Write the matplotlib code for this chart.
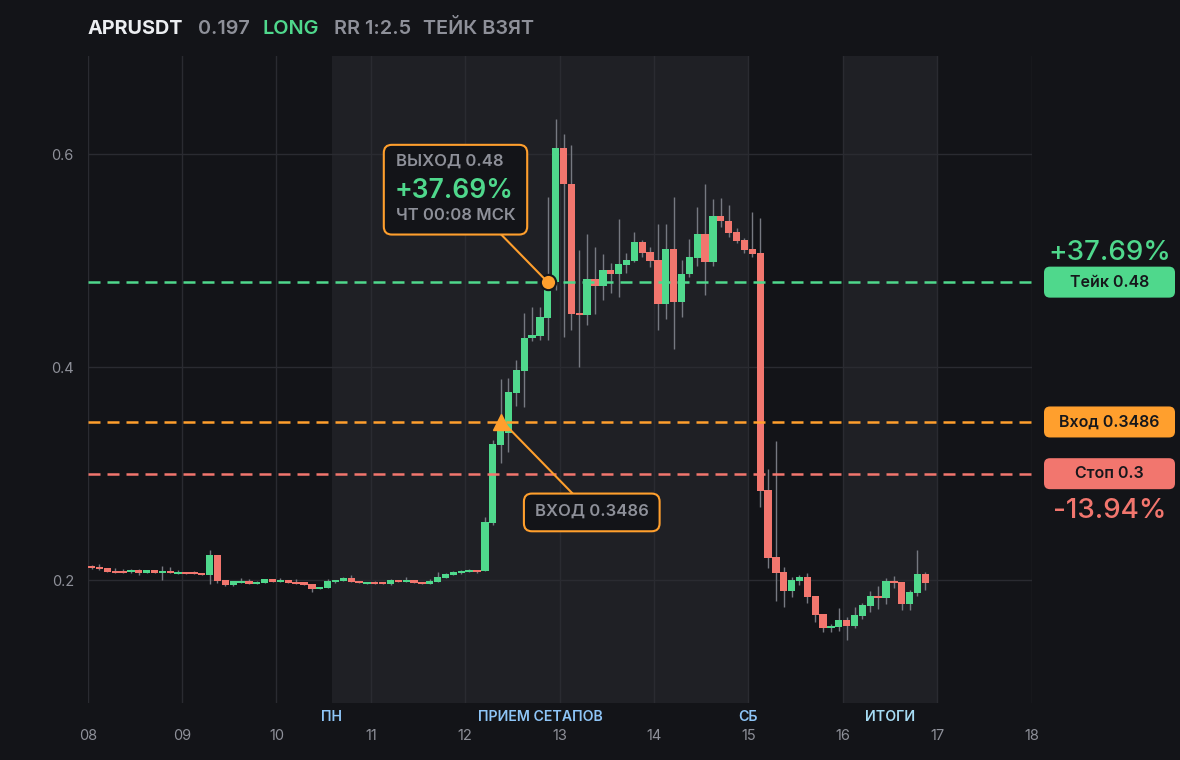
import numpy as np
import matplotlib
matplotlib.use("Agg")
import matplotlib.pyplot as plt
from matplotlib.patches import FancyBboxPatch
from matplotlib.lines import Line2D
from matplotlib.transforms import IdentityTransform

plt.rcParams['font.family'] = ['Inter', 'DejaVu Sans']

# --- data (2h candles starting on the 8th) ---
opens = [0.2131, 0.2122, 0.2113, 0.2085, 0.2085, 0.2075, 0.2094, 0.2066, 0.2094, 0.2066,
         0.2085, 0.2056, 0.2075, 0.2075, 0.2066, 0.2047, 0.2235, 0.2000, 0.1953, 0.1972,
         0.1991, 0.1962, 0.1972, 0.2009, 0.1981, 0.2000, 0.1981, 0.1981, 0.1962, 0.1915,
         0.1925, 0.1981, 0.1991, 0.2019, 0.1991, 0.1962, 0.1981, 0.1981, 0.1962, 0.2000,
         0.1981, 0.2000, 0.1981, 0.1962, 0.1981, 0.2019, 0.2047, 0.2066, 0.2075, 0.2094,
         0.2087, 0.2538, 0.3268, 0.3387, 0.3759, 0.3965, 0.4279, 0.4294, 0.4463, 0.4801,
         0.6063, 0.5725, 0.4510, 0.4491, 0.4833, 0.4763, 0.4911, 0.4873, 0.4961, 0.4998,
         0.5174, 0.5080, 0.5005, 0.4598, 0.5108, 0.4613, 0.4873, 0.5023, 0.5249, 0.4986,
         0.5418, 0.5374, 0.5268, 0.5192, 0.5108, 0.5070, 0.2845, 0.2216, 0.2075, 0.1900,
         0.1993, 0.2028, 0.1850, 0.1681, 0.1552, 0.1561, 0.1627, 0.1571, 0.1665, 0.1759,
         0.1853, 0.1834, 0.1993, 0.1984, 0.1777, 0.1881, 0.2056]
highs = [0.2144, 0.2150, 0.2115, 0.2113, 0.2103, 0.2103, 0.2103, 0.2094, 0.2094, 0.2131,
         0.2122, 0.2094, 0.2075, 0.2085, 0.2066, 0.2282, 0.2235, 0.2000, 0.1991, 0.2019,
         0.2009, 0.1991, 0.2009, 0.2009, 0.2019, 0.2000, 0.2009, 0.1981, 0.1962, 0.1934,
         0.2009, 0.2000, 0.2028, 0.2047, 0.1991, 0.1981, 0.1991, 0.1981, 0.2009, 0.2000,
         0.2028, 0.2000, 0.1981, 0.2009, 0.2075, 0.2066, 0.2085, 0.2094, 0.2103, 0.2094,
         0.2594, 0.3315, 0.3887, 0.3897, 0.4066, 0.4507, 0.4563, 0.4566, 0.5599, 0.6335,
         0.6194, 0.6085, 0.5099, 0.5255, 0.5130, 0.5068, 0.4977, 0.5396, 0.5070, 0.5271,
         0.5192, 0.5130, 0.5343, 0.5343, 0.5599, 0.5005, 0.5208, 0.5505, 0.5725, 0.5584,
         0.5587, 0.5521, 0.5305, 0.5211, 0.5458, 0.5399, 0.3042, 0.3305, 0.2125, 0.2028,
         0.2047, 0.2066, 0.1850, 0.1681, 0.1590, 0.1740, 0.1655, 0.1749, 0.1787, 0.1899,
         0.1946, 0.2019, 0.2037, 0.1984, 0.1909, 0.2285, 0.2075]
lows = [0.2100, 0.2091, 0.2073, 0.2066, 0.2066, 0.2066, 0.2047, 0.2066, 0.2066, 0.2000,
        0.2066, 0.2056, 0.2056, 0.2056, 0.2047, 0.1962, 0.1972, 0.1944, 0.1944, 0.1972,
        0.1962, 0.1962, 0.1972, 0.1981, 0.1981, 0.1972, 0.1962, 0.1953, 0.1890, 0.1915,
        0.1925, 0.1972, 0.1991, 0.1981, 0.1972, 0.1962, 0.1962, 0.1962, 0.1953, 0.1981,
        0.1981, 0.1972, 0.1962, 0.1962, 0.1981, 0.2019, 0.2047, 0.2056, 0.2075, 0.2066,
        0.2087, 0.2516, 0.3101, 0.3205, 0.3634, 0.3627, 0.4250, 0.4254, 0.4254, 0.4723,
        0.4285, 0.4347, 0.4003, 0.4394, 0.4504, 0.4629, 0.4695, 0.4660, 0.4883, 0.4990,
        0.5036, 0.4942, 0.4347, 0.4457, 0.4176, 0.4473, 0.4850, 0.4950, 0.4676, 0.4950,
        0.5317, 0.5224, 0.5164, 0.5070, 0.5040, 0.2688, 0.2116, 0.1806, 0.1749, 0.1843,
        0.1956, 0.1787, 0.1608, 0.1515, 0.1515, 0.1525, 0.1439, 0.1552, 0.1636, 0.1702,
        0.1731, 0.1777, 0.1928, 0.1721, 0.1721, 0.1853, 0.1903]
closes = [0.2113, 0.2103, 0.2075, 0.2066, 0.2066, 0.2094, 0.2066, 0.2094, 0.2066, 0.2085,
          0.2066, 0.2075, 0.2056, 0.2056, 0.2047, 0.2235, 0.1991, 0.1953, 0.1991, 0.1991,
          0.1962, 0.1981, 0.2009, 0.1981, 0.2003, 0.1972, 0.1962, 0.1953, 0.1915, 0.1934,
          0.1991, 0.2000, 0.2019, 0.1981, 0.1972, 0.1981, 0.1962, 0.1962, 0.2000, 0.1981,
          0.2000, 0.1972, 0.1962, 0.1991, 0.2028, 0.2056, 0.2075, 0.2085, 0.2094, 0.2075,
          0.2542, 0.3277, 0.3399, 0.3765, 0.3972, 0.4279, 0.4300, 0.4469, 0.4754, 0.6063,
          0.5725, 0.4504, 0.4491, 0.4833, 0.4763, 0.4911, 0.4873, 0.4967, 0.5005, 0.5174,
          0.5073, 0.4998, 0.4598, 0.5108, 0.4613, 0.4880, 0.5036, 0.5249, 0.4986, 0.5418,
          0.5374, 0.5261, 0.5186, 0.5099, 0.5061, 0.2839, 0.2210, 0.2069, 0.1900, 0.2000,
          0.2028, 0.1843, 0.1674, 0.1552, 0.1571, 0.1627, 0.1571, 0.1674, 0.1768, 0.1853,
          0.1834, 0.1993, 0.1975, 0.1777, 0.1890, 0.2056, 0.1970]

start_day = 8
candles_per_day = 12

symbol = "APRUSDT"
last_price = "0.197"
side = "LONG"
rr_text = "RR 1:2.5"
status = "ТЕЙК ВЗЯТ"

entry = 0.3486
take = 0.48
stop = 0.3
entry_candle = 52
exit_candle = 58
exit_time_text = "ЧТ 00:08 МСК"
take_pct = "+37.69%"
stop_pct = "-13.94%"

sessions = [(10 + 14 / 24, 15.0), (16.0, 17.0)]
session_labels = [("ПН", 10 + 14 / 24), ("ПРИЕМ СЕТАПОВ", (10 + 14 / 24 + 15.0) / 2),
                  ("СБ", 15.0), ("ИТОГИ", 16.5)]
day_ticks = list(range(8, 19))
price_ticks = [0.2, 0.4, 0.6]

# --- colours ---
BG = '#131418'
SHADE = '#1f2025'
GRID = '#2a2b31'
GREEN = '#4fd88c'
RED = '#f2766e'
ORANGE = '#ff9f2d'
GRAY = '#8e9099'
WICK = '#767981'
BLUE = '#8ec5f7'
CYAN = '#a6dcf4'
DARK = '#16171b'

o = np.array(opens)
h = np.array(highs)
l = np.array(lows)
c = np.array(closes)
t = start_day + (np.arange(len(o)) + 0.5) / candles_per_day

fig = plt.figure(figsize=(11.8, 7.6), dpi=100, facecolor=BG)
ax = fig.add_axes([87.7 / 1180, 1 - 702.7 / 760, (1031.5 - 87.7) / 1180, (702.7 - 56) / 760])
ax.set_facecolor(BG)
ax.set_xlim(8, 18)
ax.set_ylim(0.0848, 0.6925)

for a, b in sessions:
    ax.axvspan(a, b, color=SHADE, lw=0, zorder=0)

ax.set_xticks(day_ticks)
ax.set_xticklabels([f"{d:02d}" for d in day_ticks])
ax.set_yticks(price_ticks)
ax.set_yticklabels([f"{p:g}" for p in price_ticks])
ax.grid(True, color=GRID, lw=1, zorder=0.5)
ax.set_axisbelow(True)
for s in ax.spines.values():
    s.set_visible(False)
ax.tick_params(axis='both', length=0, colors=GRAY, labelsize=10.5)
ax.tick_params(axis='x', pad=19)
ax.tick_params(axis='y', pad=10)

# candles
up = c >= o
body_lo = np.minimum(o, c)
body_h = np.maximum(np.abs(c - o), 0.0019)
w = 0.93 / candles_per_day
ax.vlines(t, l, h, color=WICK, lw=1, zorder=2)
ax.bar(t[up], body_h[up], bottom=body_lo[up], width=w, color=GREEN, lw=0, zorder=3)
ax.bar(t[~up], body_h[~up], bottom=body_lo[~up], width=w, color=RED, lw=0, zorder=3)

# levels
dash = (0, (4.8, 2.8))
ax.axhline(take, color=GREEN, lw=1.8, ls=dash, zorder=4)
ax.axhline(entry, color=ORANGE, lw=1.8, ls=dash, zorder=4)
ax.axhline(stop, color=RED, lw=1.8, ls=dash, zorder=4)

entry_t = t[entry_candle]
exit_t = t[exit_candle]
ax.plot(entry_t, entry, marker='^', ms=11, color=ORANGE, mec=ORANGE, zorder=6)
ax.plot(exit_t, take, marker='o', ms=11, mfc=ORANGE, mec=DARK, mew=1.5, zorder=6)

# session labels under the axis
xax = ax.get_xaxis_transform()
for name, x in session_labels:
    ax.text(x, -0.022, name, transform=xax, ha='center', va='center',
            color=CYAN if name == "ИТОГИ" else BLUE, fontsize=10.2, fontweight='semibold')

# header
hy = 1 - 29 / 760
for x, s, col, wt in [(88, symbol, '#eceef1', 'bold'), (198, last_price, GRAY, 'semibold'),
                       (263, side, GREEN, 'semibold'), (334, rr_text, GRAY, 'semibold'),
                       (423, status, GRAY, 'semibold')]:
    fig.text(x / 1180, hy, s, color=col, fontsize=14.3, fontweight=wt, va='center', ha='left')

# annotations, drawn in pixel space around the data points
fig.canvas.draw()
px = IdentityTransform()


def rbox(x0, y0, wd, ht, fc, ec=None, lw=0, r=8):
    p = FancyBboxPatch((x0, y0), wd, ht, boxstyle=f'round,pad=0,rounding_size={r}',
                       fc=fc, ec=ec if ec else fc, lw=lw, transform=px, zorder=10)
    fig.add_artist(p)


ex, ey = ax.transData.transform((exit_t, take))
fig.add_artist(Line2D([ex - 47, ex - 4], [ey + 48, ey + 4], color=ORANGE, lw=1.5, transform=px))
rbox(ex - 164, ey + 47.6, 143.4, 89.7, BG, ORANGE, 1.5)
fig.text(ex - 152, ey + 120.6, f"ВЫХОД {take:g}", transform=px, color=GRAY, fontsize=12,
         fontweight='semibold', va='center', ha='left', zorder=11)
fig.text(ex - 153, ey + 91.6, take_pct, transform=px, color=GREEN, fontsize=19,
         fontweight='semibold', va='center', ha='left', zorder=11)
fig.text(ex - 152, ey + 66.6, exit_time_text, transform=px, color=GRAY, fontsize=12,
         fontweight='semibold', va='center', ha='left', zorder=11)

nx, ny = ax.transData.transform((entry_t, entry))
fig.add_artist(Line2D([nx + 5, nx + 72], [ny - 3, ny - 71.6], color=ORANGE, lw=1.5, transform=px))
rbox(nx + 23.3, ny - 109.3, 135.7, 37.7, BG, ORANGE, 1.5)
fig.text(nx + 91, ny - 89, f"ВХОД {entry:g}", transform=px, color=GRAY, fontsize=12,
         fontweight='semibold', va='center', ha='center', zorder=11)

# right-hand price tags
for lvl, name, col in [(take, "Тейк", GREEN), (entry, "Вход", ORANGE), (stop, "Стоп", RED)]:
    _, py = ax.transData.transform((8, lvl))
    rbox(1044, py - 15.5, 131, 31, col, r=6)
    fig.text(1109.5, py, f"{name} {lvl:g}", transform=px, color=DARK, fontsize=11.5,
             fontweight='semibold', va='center', ha='center', zorder=11)

_, ty = ax.transData.transform((8, take))
fig.text(1109.5, ty + 29, take_pct, transform=px, color=GREEN, fontsize=20,
         fontweight='medium', va='center', ha='center', zorder=11)
_, sy = ax.transData.transform((8, stop))
fig.text(1109.5, sy - 37, stop_pct, transform=px, color=RED, fontsize=20,
         fontweight='medium', va='center', ha='center', zorder=11)

fig.savefig("out.png", dpi=100, facecolor=BG)
